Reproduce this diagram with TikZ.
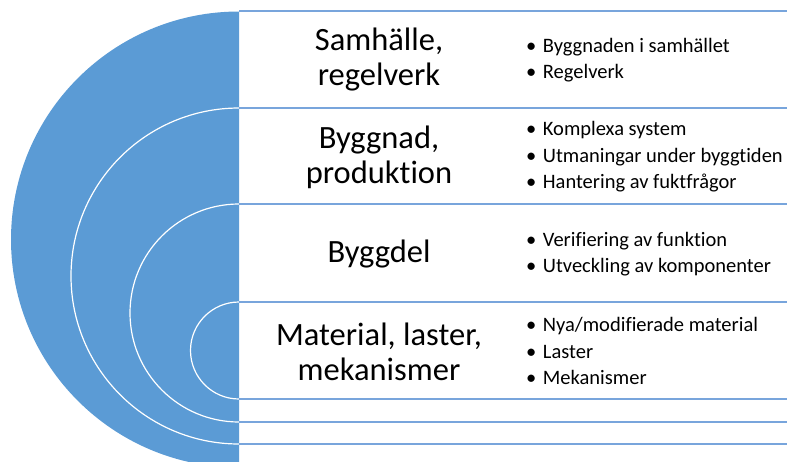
\documentclass[tikz,border=0pt]{standalone}
\usepackage{fontspec}
\setmainfont{Carlito}[Ligatures=NoCommon]
\definecolor{discblue}{RGB}{91,155,213}
\definecolor{rowline}{RGB}{120,165,220}
\begin{document}
\begin{tikzpicture}[x=1pt,y=-1pt,
  title/.style={align=center,font=\fontsize{32.5}{35}\selectfont,text=black,inner sep=0pt},
  items/.style={align=left,font=\fontsize{20.5}{26.5}\selectfont,text=black,inner sep=0pt,anchor=west},
  rowrule/.style={draw=rowline,line width=1.3pt},
  ring/.style={draw=white,line width=1.2pt}]
\useasboundingbox (0,0) rectangle (787,461);
\clip (0,0) rectangle (787,461);
% disc
\fill[discblue] (239,11.5) arc[start angle=270,end angle=90,radius=228] -- cycle;
\draw[ring] (239,108) arc[start angle=270,end angle=90,radius=168];
\draw[ring] (239,204) arc[start angle=270,end angle=90,radius=109];
\draw[ring] (239,302) arc[start angle=270,end angle=90,radius=48.5];
% row rules
\foreach \yy in {11,108,204,302,399,422,444}
  \draw[rowrule] (239,\yy) -- (787,\yy);
% titles
\node[title] (t1) at (379,60) {Samhälle,\\regelverk};
\node[title] (t2) at (379,157) {Byggnad,\\produktion};
\node[title] (t3) at (379,254) {Byggdel};
\node[title] (t4) at (379,352) {Material, laster,\\mekanismer};
% bullet lists
\node[items] (b1) at (526,60) {•\hspace{6.5pt}Byggnaden i samhället\\•\hspace{6.5pt}Regelverk};
\node[items] (b2) at (526,157) {•\hspace{6.5pt}Komplexa system\\•\hspace{6.5pt}Utmaningar under byggtiden\\•\hspace{6.5pt}Hantering av fuktfrågor};
\node[items] (b3) at (526,254) {•\hspace{6.5pt}Verifiering av funktion\\•\hspace{6.5pt}Utveckling av komponenter};
\node[items] (b4) at (526,351) {•\hspace{6.5pt}Nya/modifierade material\\•\hspace{6.5pt}Laster\\•\hspace{6.5pt}Mekanismer};
\end{tikzpicture}
\end{document}
